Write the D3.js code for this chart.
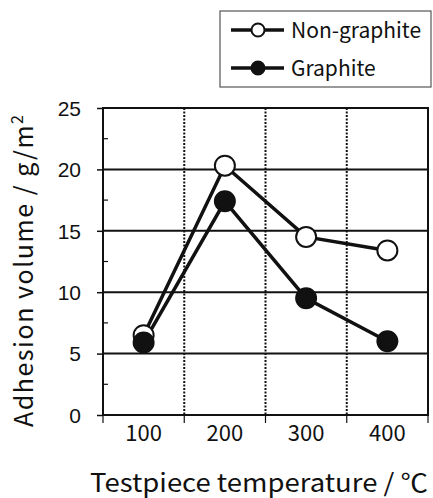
<!DOCTYPE html>
<html><head><meta charset="utf-8">
<script src="https://cdn.jsdelivr.net/npm/d3@7"></script>
<style>body{margin:0;background:#fff}svg{display:block}</style>
</head><body>
<script>
const categories = [100, 200, 300, 400];
const nonGraphite = [6.5, 20.3, 14.5, 13.4];
const graphite = [5.9, 17.4, 9.5, 6.0];
const yTicks = [0, 5, 10, 15, 20, 25];
const yMinor = [2.5, 7.5, 12.5, 17.5, 22.5];
const seriesNames = ["Non-graphite", "Graphite"];

const W = 433, H = 498;
const svg = d3.select("body").append("svg").attr("width", W).attr("height", H);
const ink = "#111";
const L = 103, R = 428, T = 108, B = 415;
const x = d3.scaleBand().domain(categories).range([L, R]).padding(0);
const y = d3.scaleLinear().domain([0, 25]).range([B, T]);

// vertical dotted lines at band boundaries
const bounds = categories.slice(1).map(c => x(c));
svg.append("g").selectAll("line").data(bounds).join("line")
  .attr("x1", d => d).attr("x2", d => d).attr("y1", T).attr("y2", B)
  .attr("stroke", ink).attr("stroke-width", 2).attr("stroke-dasharray", "2,1.5");

// horizontal gridlines
svg.append("g").selectAll("line").data(yTicks.filter(v => v > 0 && v < 25)).join("line")
  .attr("x1", L).attr("x2", R).attr("y1", d => y(d)).attr("y2", d => y(d))
  .attr("stroke", ink).attr("stroke-width", 2);

// frame
svg.append("rect").attr("x", L).attr("y", T).attr("width", R - L).attr("height", B - T)
  .attr("fill", "none").attr("stroke", ink).attr("stroke-width", 2);

// y axis
const yAxis = d3.axisLeft(y).tickValues(yTicks).tickSize(6).tickPadding(16);
const gy = svg.append("g").attr("transform", `translate(${L},0)`).call(yAxis);
gy.select(".domain").remove();
gy.selectAll(".tick line").attr("stroke", ink).attr("stroke-width", 1.5);
gy.selectAll(".tick text").attr("font-family", "Liberation Sans, Arial, sans-serif")
  .attr("font-size", 21).attr("fill", ink).attr("dy", "0.35em");
// minor inner ticks
svg.append("g").selectAll("line").data(yMinor).join("line")
  .attr("x1", L).attr("x2", L + 5).attr("y1", d => y(d)).attr("y2", d => y(d))
  .attr("stroke", ink).attr("stroke-width", 1.2);

// x axis
const gx = svg.append("g").attr("transform", `translate(0,${B})`)
  .call(d3.axisBottom(x).tickSize(0).tickPadding(24));
gx.select(".domain").remove();
gx.selectAll(".tick text").attr("font-family", "Noto Sans CJK JP, sans-serif")
  .attr("font-size", 22).attr("fill", ink).attr("dy", "0.1em");
svg.append("g").selectAll("line").data([L, ...bounds, R]).join("line")
  .attr("x1", d => d).attr("x2", d => d).attr("y1", B).attr("y2", B + 8)
  .attr("stroke", ink).attr("stroke-width", 1.2);

// axis titles
svg.append("text").attr("x", 259).attr("y", 492).attr("text-anchor", "middle")
  .attr("font-family", "Noto Sans CJK JP, sans-serif").attr("font-size", 25).attr("fill", ink)
  .attr("textLength", 338).attr("lengthAdjust", "spacingAndGlyphs")
  .text("Testpiece temperature / ℃");

const yt = svg.append("text").attr("transform", "translate(33,271) rotate(-90)")
  .attr("text-anchor", "middle").attr("font-family", "Noto Sans CJK JP, sans-serif")
  .attr("font-size", 25).attr("fill", ink)
  .attr("textLength", 312).attr("lengthAdjust", "spacing");
yt.append("tspan").text("Adhesion volume / g/m");
yt.append("tspan").attr("font-size", 16).attr("dy", -10).text("2");

// series
const line = d3.line().x((d, i) => x(categories[i]) + x.bandwidth() / 2).y(d => y(d));
const series = [
  { name: seriesNames[0], values: nonGraphite, fill: "#fff" },
  { name: seriesNames[1], values: graphite, fill: ink }
];
series.forEach(s => {
  svg.append("path").datum(s.values).attr("d", line).attr("fill", "none")
    .attr("stroke", ink).attr("stroke-width", 3.5);
});
series.forEach(s => {
  svg.append("g").selectAll("circle").data(s.values).join("circle")
    .attr("cx", (d, i) => x(categories[i]) + x.bandwidth() / 2).attr("cy", d => y(d))
    .attr("r", 10).attr("fill", s.fill).attr("stroke", ink).attr("stroke-width", 2);
});

// legend
const lg = svg.append("g");
lg.append("rect").attr("x", 220).attr("y", 11).attr("width", 211).attr("height", 76)
  .attr("fill", "#fff").attr("stroke", "#555").attr("stroke-width", 1.2);
series.forEach((s, i) => {
  const cy = 30 + i * 38;
  lg.append("line").attr("x1", 231).attr("x2", 284).attr("y1", cy).attr("y2", cy)
    .attr("stroke", ink).attr("stroke-width", 3.5);
  lg.append("circle").attr("cx", 258).attr("cy", cy).attr("r", 6.5)
    .attr("fill", s.fill).attr("stroke", ink).attr("stroke-width", 2);
  lg.append("text").attr("x", 291).attr("y", cy + 8)
    .attr("font-family", "Noto Sans CJK JP, sans-serif").attr("font-size", 21).attr("fill", ink)
    .text(s.name);
});
</script>
</body></html>
